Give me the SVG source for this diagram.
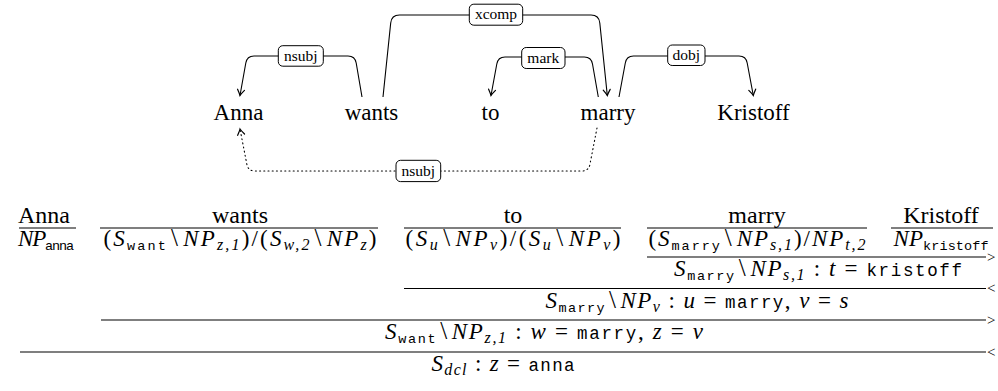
<svg xmlns="http://www.w3.org/2000/svg" width="998" height="391" viewBox="0 0 998 391">
  <style>
    .word { font-family: "Liberation Serif", serif; font-size: 23px; fill: #000; text-anchor: middle; }
    .lbl rect { fill: #fff; stroke: #000; stroke-width: 1; }
    .lbl text { font-family: "Liberation Serif", "DejaVu Serif", serif; font-size: 15.5px; fill: #000; text-anchor: middle; }
    .edge { fill: none; stroke: #000; stroke-width: 1.1; marker-end: url(#tip); }
    .dotted { stroke-dasharray: 1 3.2; stroke-linecap: round; }
    .rule { stroke: #000; stroke-width: 1.1; }
    .h { font-family: "Liberation Serif", serif; font-size: 24px; fill: #000; text-anchor: middle; }
    .c { font-family: "Liberation Serif", serif; font-size: 23px; fill: #000; text-anchor: middle; }
    .i { font-family: "Liberation Serif", serif; font-style: italic; }
    .s { font-family: "Liberation Serif", serif; font-style: italic; font-size: 16px; }
    .bs { font-size: 25px; }
    .ts { font-family: "Liberation Mono", monospace; font-size: 13.5px; }
    .t { font-family: "Liberation Mono", monospace; font-size: 17.5px; }
    .op { font-family: "Liberation Serif", serif; font-size: 15px; fill: #000; }
  </style>
  <defs>
    <marker id="tip" viewBox="-7 -5 9 10" markerWidth="9" markerHeight="10" refX="0" refY="0" orient="auto" markerUnits="userSpaceOnUse">
      <path d="M -5.8,-3.5 Q -1.7,-0.7 0,0 Q -1.7,0.7 -5.8,3.5" fill="none" stroke="#000" stroke-width="1.2" stroke-dasharray="none" stroke-linecap="round"/>
    </marker>
  </defs>

  <!-- dependency tree: words -->
  <g id="dep-anna"><text class="word" x="238.5" y="120">Anna</text></g>
  <g id="dep-wants"><text class="word" x="371.5" y="120">wants</text></g>
  <g id="dep-to"><text class="word" x="490.5" y="120">to</text></g>
  <g id="dep-marry"><text class="word" x="608" y="120">marry</text></g>
  <g id="dep-kristoff"><text class="word" x="753.5" y="120">Kristoff</text></g>

  <!-- dependency arcs -->
  <g id="arcs">
    <path class="edge" d="M 362,97 L 356.2,63 Q 355,56 348,56 L 254,56 Q 247,56 245.8,63 L 240,95.5"/>
    <path class="edge" d="M 383,97 L 390.7,23 Q 391.5,15 399.5,15 L 591,15 Q 599,15 599.8,23 L 607.3,95.5"/>
    <path class="edge" d="M 598.3,97 L 592.5,64 Q 591.3,57 584.3,57 L 505,57 Q 498,57 496.8,64 L 491,95.5"/>
    <path class="edge" d="M 619,97 L 625.3,63 Q 626.5,56 633.5,56 L 739,56 Q 746,56 747.2,63 L 753.3,95.5"/>
    <path class="edge dotted" d="M 597,128 L 590,164 Q 588.8,171 582,171 L 255,171 Q 248,171 246.8,164 L 240,129"/>
  </g>

  <!-- arc labels -->
  <g id="lbl-nsubj" class="lbl"><rect x="278.3" y="45.7" width="45" height="20.5" rx="4.5"/><text x="300.8" y="60.5">nsubj</text></g>
  <g id="lbl-xcomp" class="lbl"><rect x="469.3" y="4.2" width="53.4" height="21" rx="4.5"/><text x="496" y="19">xcomp</text></g>
  <g id="lbl-mark" class="lbl"><rect x="521.7" y="47.5" width="43.3" height="21" rx="4.5"/><text x="543.3" y="62.5">mark</text></g>
  <g id="lbl-dobj" class="lbl"><rect x="667.7" y="45" width="37.3" height="20.5" rx="4.5"/><text x="686.3" y="59.8">dobj</text></g>
  <g id="lbl-nsubj2" class="lbl"><rect x="396" y="160.3" width="44.7" height="21.3" rx="4.5"/><text x="418.3" y="175.5">nsubj</text></g>

  <!-- CCG derivation: lexical entries -->
  <g id="ccg-anna">
    <text class="h" x="44" y="223">Anna</text>
    <line class="rule" x1="19" y1="228" x2="76" y2="228"/>
    <text class="c" x="46" y="246" textLength="56" lengthAdjust="spacing"><tspan class="i">NP</tspan><tspan class="ts" dy="4">anna</tspan></text>
  </g>
  <g id="ccg-wants">
    <text class="h" x="240" y="223">wants</text>
    <line class="rule" x1="100" y1="228" x2="378" y2="228"/>
    <text class="c" x="240" y="246" textLength="273" lengthAdjust="spacing">(<tspan class="i">S</tspan><tspan class="ts" dy="4">want</tspan><tspan class="bs" dy="-4" dx="3">\</tspan><tspan class="i" dx="3">NP</tspan><tspan class="s" dy="4">z,1</tspan><tspan dy="-4">)/(</tspan><tspan class="i">S</tspan><tspan class="s" dy="4">w,2</tspan><tspan class="bs" dy="-4" dx="3">\</tspan><tspan class="i" dx="3">NP</tspan><tspan class="s" dy="4">z</tspan><tspan dy="-4">)</tspan></text>
  </g>
  <g id="ccg-to">
    <text class="h" x="513" y="223">to</text>
    <line class="rule" x1="404" y1="228" x2="621" y2="228"/>
    <text class="c" x="513" y="246" textLength="215" lengthAdjust="spacing">(<tspan class="i">S</tspan><tspan class="s" dy="4">u</tspan><tspan class="bs" dy="-4" dx="3">\</tspan><tspan class="i" dx="3">NP</tspan><tspan class="s" dy="4">v</tspan><tspan dy="-4">)/(</tspan><tspan class="i">S</tspan><tspan class="s" dy="4">u</tspan><tspan class="bs" dy="-4" dx="3">\</tspan><tspan class="i" dx="3">NP</tspan><tspan class="s" dy="4">v</tspan><tspan dy="-4">)</tspan></text>
  </g>
  <g id="ccg-marry">
    <text class="h" x="757" y="223">marry</text>
    <line class="rule" x1="647" y1="228" x2="867" y2="228"/>
    <text class="c" x="757" y="246" textLength="217" lengthAdjust="spacing">(<tspan class="i">S</tspan><tspan class="ts" dy="4">marry</tspan><tspan class="bs" dy="-4" dx="3">\</tspan><tspan class="i" dx="3">NP</tspan><tspan class="s" dy="4">s,1</tspan><tspan dy="-4">)/</tspan><tspan class="i">NP</tspan><tspan class="s" dy="4">t,2</tspan></text>
  </g>
  <g id="ccg-kristoff">
    <text class="h" x="941" y="223">Kristoff</text>
    <line class="rule" x1="891" y1="228" x2="993" y2="228"/>
    <text class="c" x="941" y="246" textLength="95" lengthAdjust="spacing"><tspan class="i">NP</tspan><tspan class="ts" dy="4">kristoff</tspan></text>
  </g>

  <!-- CCG derivation: combination steps -->
  <g id="ccg-step1">
    <line class="rule" x1="647" y1="257" x2="986" y2="257"/>
    <text class="op" x="987" y="261.5">&gt;</text>
    <text class="c" x="818" y="276" textLength="288" lengthAdjust="spacing"><tspan class="i">S</tspan><tspan class="ts" dy="4">marry</tspan><tspan class="bs" dy="-4" dx="3">\</tspan><tspan class="i" dx="3">NP</tspan><tspan class="s" dy="4">s,1</tspan><tspan dy="-4"> : </tspan><tspan class="i">t</tspan> = <tspan class="t">kristoff</tspan></text>
  </g>
  <g id="ccg-step2">
    <line class="rule" x1="404" y1="288.5" x2="986" y2="288.5"/>
    <text class="op" x="987" y="293">&lt;</text>
    <text class="c" x="697" y="307.5" textLength="303" lengthAdjust="spacing"><tspan class="i">S</tspan><tspan class="ts" dy="4">marry</tspan><tspan class="bs" dy="-4" dx="3">\</tspan><tspan class="i" dx="3">NP</tspan><tspan class="s" dy="4">v</tspan><tspan dy="-4"> : </tspan><tspan class="i">u</tspan> = <tspan class="t">marry</tspan>, <tspan class="i">v</tspan> = <tspan class="i">s</tspan></text>
  </g>
  <g id="ccg-step3">
    <line class="rule" x1="101" y1="320" x2="986" y2="320"/>
    <text class="op" x="987" y="324.5">&gt;</text>
    <text class="c" x="544" y="339" textLength="318" lengthAdjust="spacing"><tspan class="i">S</tspan><tspan class="ts" dy="4">want</tspan><tspan class="bs" dy="-4" dx="3">\</tspan><tspan class="i" dx="3">NP</tspan><tspan class="s" dy="4">z,1</tspan><tspan dy="-4"> : </tspan><tspan class="i">w</tspan> = <tspan class="t">marry</tspan>, <tspan class="i">z</tspan> = <tspan class="i">v</tspan></text>
  </g>
  <g id="ccg-step4">
    <line class="rule" x1="20" y1="352" x2="986" y2="352"/>
    <text class="op" x="987" y="356.5">&lt;</text>
    <text class="c" x="503" y="371" textLength="143" lengthAdjust="spacing"><tspan class="i">S</tspan><tspan class="s" dy="4">dcl</tspan><tspan dy="-4"> : </tspan><tspan class="i">z</tspan> = <tspan class="t">anna</tspan></text>
  </g>
</svg>
